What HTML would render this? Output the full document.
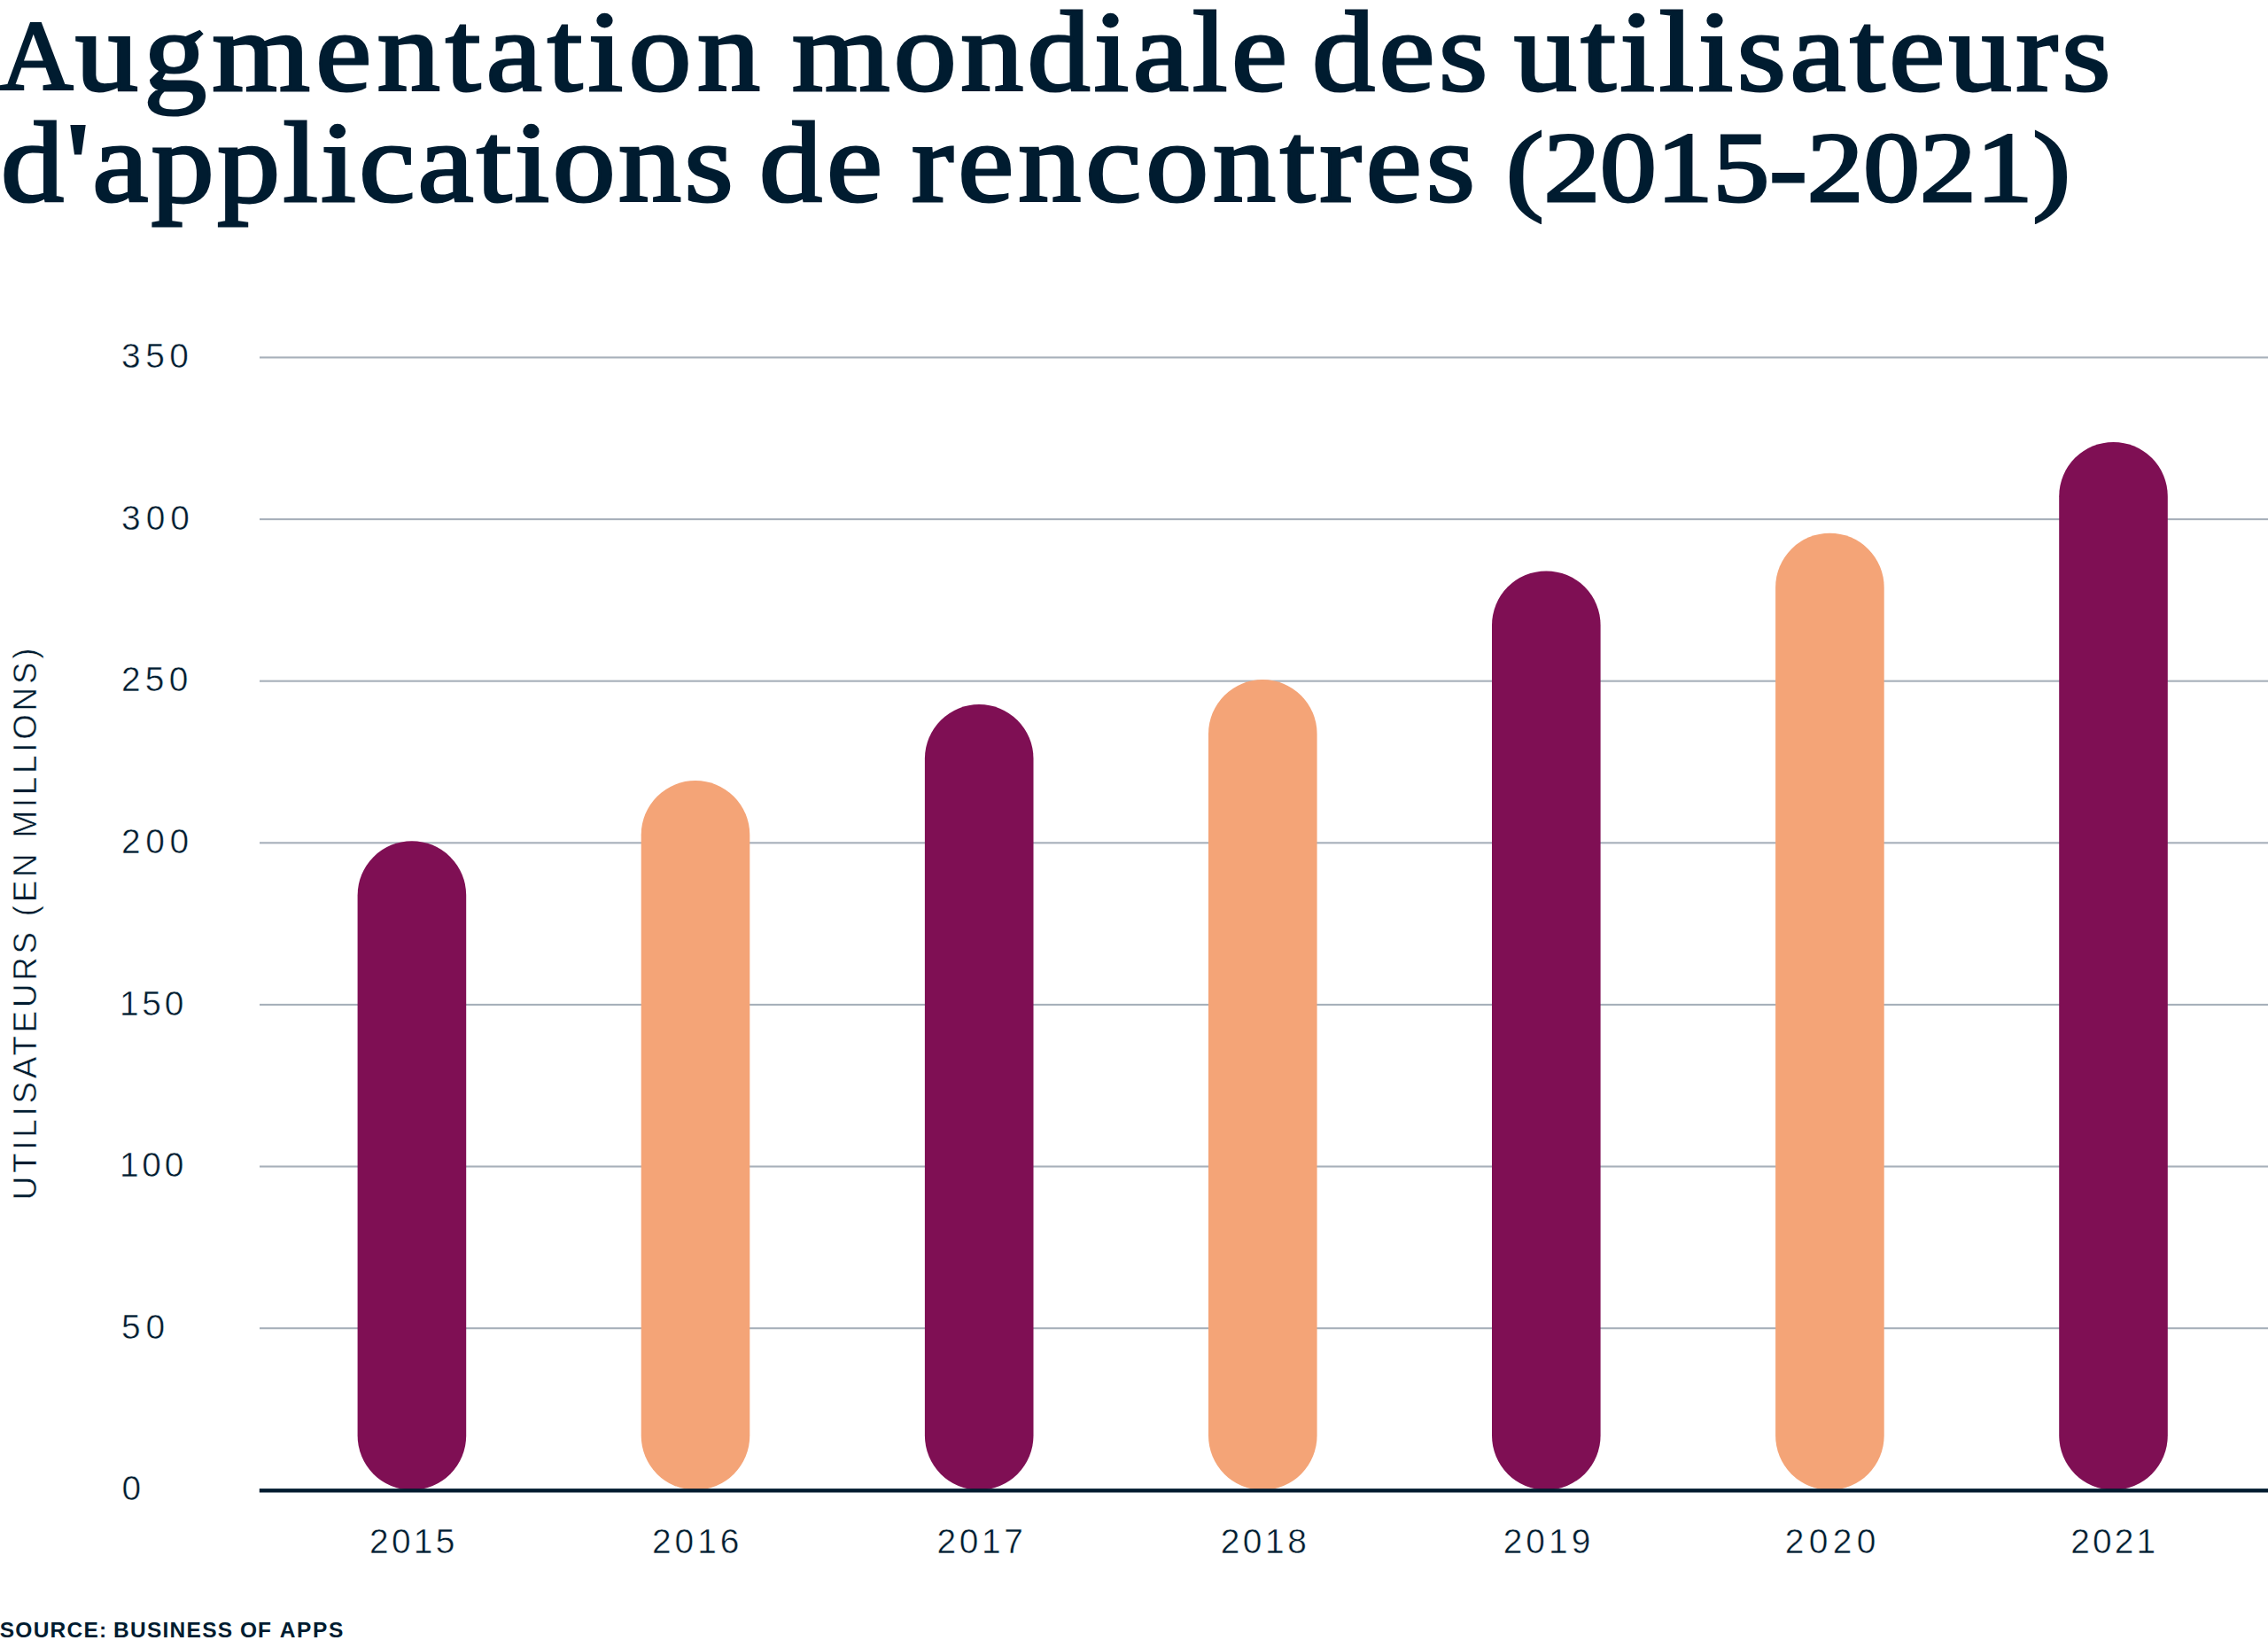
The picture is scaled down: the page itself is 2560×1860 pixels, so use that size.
<!DOCTYPE html>
<html lang="fr"><head><meta charset="utf-8"><title>Augmentation mondiale des utilisateurs d'applications de rencontres</title>
<style>
html,body{margin:0;padding:0;background:#fff;}
body{width:2560px;height:1860px;position:relative;overflow:hidden;color:#001c30;font-family:"Liberation Sans",sans-serif;}
h1{margin:0;padding:0;font-size:130px;font-weight:normal;font-family:"Liberation Serif",serif;-webkit-text-stroke:3px #001c30;}
.w{position:absolute;display:block;white-space:nowrap;line-height:150px;height:150px;transform-origin:0 0;}
svg{position:absolute;left:0;top:0;}
.lb{-webkit-text-stroke:0.5px #fff;position:absolute;display:block;font-size:38.9px;line-height:44px;height:44px;white-space:nowrap;}
#yt{position:absolute;left:28.5px;top:1041.2px;width:0;height:0;}
#yt span{-webkit-text-stroke:0.5px #fff;position:absolute;left:0;top:0;display:block;white-space:nowrap;font-size:36.8px;line-height:40px;letter-spacing:3.75px;word-spacing:0px;transform:translate(-50%,-50%) rotate(-90deg);}
.sw{position:absolute;display:block;font-weight:bold;font-size:24.5px;line-height:30px;height:30px;white-space:nowrap;}
</style></head><body>
<h1>
<span class="w" style="font-size:113px;left:0.00px;top:-11.94px;letter-spacing:0.00px;transform:scaleX(1.0110)">A</span><span class="w" style="font-size:129px;left:85.22px;top:-15.64px;letter-spacing:5.77px;transform:scaleX(1.1000)">ugmentation</span>
<span class="w" style="font-size:129px;left:893.64px;top:-15.64px;letter-spacing:4.01px;transform:scaleX(1.1000)">mondiale</span>
<span class="w" style="font-size:129px;left:1481.11px;top:-15.64px;letter-spacing:4.16px;transform:scaleX(1.1000)">des</span>
<span class="w" style="font-size:129px;left:1709.49px;top:-15.64px;letter-spacing:4.20px;transform:scaleX(1.1000)">utilisateurs</span>
<span class="w" style="font-size:129px;left:0.51px;top:108.76px;letter-spacing:3.11px;transform:scaleX(1.1000)">d'applications</span>
<span class="w" style="font-size:129px;left:856.71px;top:108.76px;letter-spacing:4.61px;transform:scaleX(1.1000)">de</span>
<span class="w" style="font-size:129px;left:1029.07px;top:108.76px;letter-spacing:4.54px;transform:scaleX(1.1000)">rencontres</span>
<span class="w" style="font-size:113px;left:1700.22px;top:114.16px;letter-spacing:0.00px;transform:scaleX(1.1274)">(2015-2021)</span>
</h1>
<svg width="2560" height="1860" viewBox="0 0 2560 1860">
<rect x="293" y="1498.12" width="2267" height="2.1" fill="#a7b0ba"/>
<rect x="293" y="1315.50" width="2267" height="2.1" fill="#a7b0ba"/>
<rect x="293" y="1132.88" width="2267" height="2.1" fill="#a7b0ba"/>
<rect x="293" y="950.26" width="2267" height="2.1" fill="#a7b0ba"/>
<rect x="293" y="767.64" width="2267" height="2.1" fill="#a7b0ba"/>
<rect x="293" y="585.02" width="2267" height="2.1" fill="#a7b0ba"/>
<rect x="293" y="402.40" width="2267" height="2.1" fill="#a7b0ba"/>
<rect x="403.6" y="949.2" width="122.6" height="732.4" rx="61.3" ry="61.3" fill="#7f0f54"/>
<rect x="723.7" y="881" width="122.6" height="800.6" rx="61.3" ry="61.3" fill="#f4a477"/>
<rect x="1043.9" y="795" width="122.6" height="886.6" rx="61.3" ry="61.3" fill="#7f0f54"/>
<rect x="1364.0" y="767" width="122.6" height="914.6" rx="61.3" ry="61.3" fill="#f4a477"/>
<rect x="1684.0" y="644.4" width="122.6" height="1037.2" rx="61.3" ry="61.3" fill="#7f0f54"/>
<rect x="2004.1" y="601.7" width="122.6" height="1079.9" rx="61.3" ry="61.3" fill="#f4a477"/>
<rect x="2324.2" y="498.9" width="122.6" height="1182.7" rx="61.3" ry="61.3" fill="#7f0f54"/>
<rect x="292.8" y="1680.1" width="2267.2" height="4.4" fill="#001c30"/>
</svg>
<span class="lb" style="left:137.45px;top:1658.36px;letter-spacing:6.00px">0</span>
<span class="lb" style="left:136.95px;top:1475.74px;letter-spacing:5.83px">50</span>
<span class="lb" style="left:134.92px;top:1293.12px;letter-spacing:3.80px">100</span>
<span class="lb" style="left:134.99px;top:1110.50px;letter-spacing:3.76px">150</span>
<span class="lb" style="left:136.95px;top:927.88px;letter-spacing:5.59px">200</span>
<span class="lb" style="left:136.95px;top:745.26px;letter-spacing:5.25px">250</span>
<span class="lb" style="left:136.98px;top:562.64px;letter-spacing:6.04px">300</span>
<span class="lb" style="left:136.98px;top:380.02px;letter-spacing:5.54px">350</span>
<span class="lb" style="left:416.92px;top:1717.82px;letter-spacing:3.34px">2015</span>
<span class="lb" style="left:735.97px;top:1717.82px;letter-spacing:3.98px">2016</span>
<span class="lb" style="left:1057.54px;top:1717.82px;letter-spacing:3.57px">2017</span>
<span class="lb" style="left:1377.67px;top:1717.82px;letter-spacing:3.53px">2018</span>
<span class="lb" style="left:1696.67px;top:1717.82px;letter-spacing:4.05px">2019</span>
<span class="lb" style="left:2014.67px;top:1717.82px;letter-spacing:5.40px">2020</span>
<span class="lb" style="left:2337.25px;top:1717.82px;letter-spacing:3.15px">2021</span>
<div id="yt"><span>UTILISATEURS (EN MILLIONS)</span></div>
<div id="src">
<span class="sw" style="left:-0.24px;top:1824.91px;letter-spacing:1.25px">SOURCE:</span>
<span class="sw" style="left:127.98px;top:1824.91px;letter-spacing:1.27px">BUSINESS</span>
<span class="sw" style="left:271.00px;top:1824.91px;letter-spacing:0.89px">OF</span>
<span class="sw" style="left:315.73px;top:1824.91px;letter-spacing:1.64px">APPS</span>
</div>
</body></html>
